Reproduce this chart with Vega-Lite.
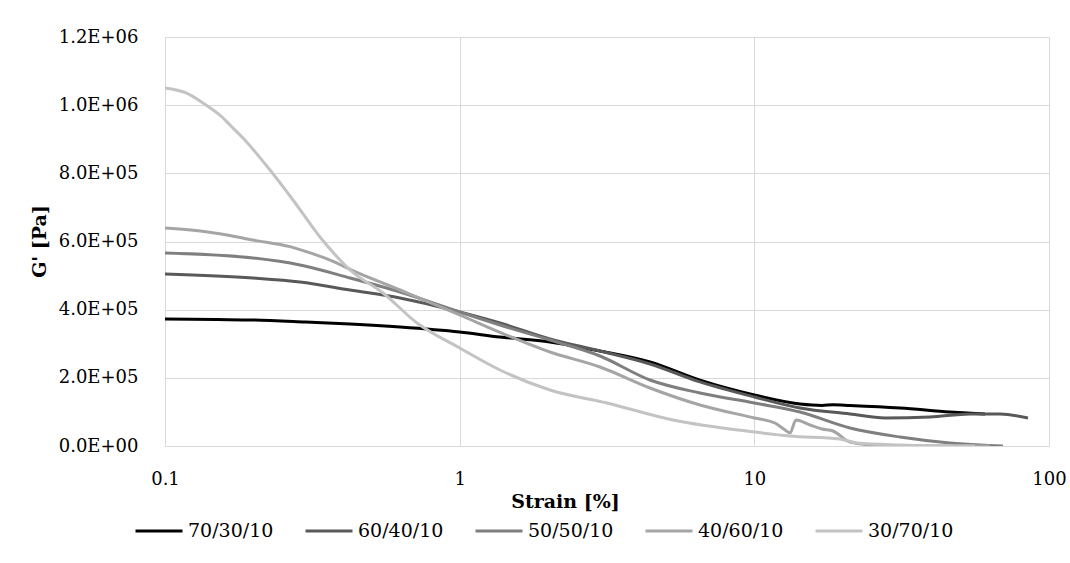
{
  "$schema": "https://vega.github.io/schema/vega-lite/v6.json",
  "width": 884,
  "height": 409,
  "autosize": {"type": "none"},
  "padding": {"left": 165, "top": 37, "right": 21, "bottom": 117},
  "background": "white",
  "config": {
    "font": "DejaVu Serif",
    "view": {"stroke": null},
    "axis": {
      "gridColor": "#d9d9d9",
      "gridWidth": 1,
      "domain": false,
      "ticks": false,
      "labelFlush": false,
      "labelFont": "DejaVu Serif",
      "labelFontSize": 18,
      "labelColor": "#000000",
      "titleFont": "DejaVu Serif",
      "titleFontSize": 19,
      "titleFontWeight": "bold",
      "titleColor": "#000000"
    },
    "legend": {
      "labelFont": "DejaVu Serif",
      "labelFontSize": 19,
      "labelColor": "#000000"
    }
  },
  "data": {
    "values": [
      {"s": "70/30/10", "x": 0.1, "y": 372600},
      {"s": "70/30/10", "x": 0.15, "y": 371000},
      {"s": "70/30/10", "x": 0.2, "y": 369700},
      {"s": "70/30/10", "x": 0.3, "y": 363800},
      {"s": "70/30/10", "x": 0.4245, "y": 357900},
      {"s": "70/30/10", "x": 0.6273, "y": 349100},
      {"s": "70/30/10", "x": 1.0, "y": 334500},
      {"s": "70/30/10", "x": 1.37, "y": 319800},
      {"s": "70/30/10", "x": 2.025, "y": 305100},
      {"s": "70/30/10", "x": 2.994, "y": 278700},
      {"s": "70/30/10", "x": 4.424, "y": 246500},
      {"s": "70/30/10", "x": 6.54, "y": 193000},
      {"s": "70/30/10", "x": 10, "y": 149600},
      {"s": "70/30/10", "x": 14.29, "y": 123200},
      {"s": "70/30/10", "x": 16.97, "y": 119000},
      {"s": "70/30/10", "x": 18.5, "y": 121000},
      {"s": "70/30/10", "x": 21.12, "y": 119000},
      {"s": "70/30/10", "x": 31.22, "y": 111500},
      {"s": "70/30/10", "x": 46.13, "y": 99800},
      {"s": "70/30/10", "x": 60.65, "y": 93900},
      {"s": "60/40/10", "x": 0.1, "y": 504600},
      {"s": "60/40/10", "x": 0.1989, "y": 492900},
      {"s": "60/40/10", "x": 0.2872, "y": 481200},
      {"s": "60/40/10", "x": 0.4245, "y": 457700},
      {"s": "60/40/10", "x": 0.6273, "y": 434200},
      {"s": "60/40/10", "x": 1.0, "y": 393200},
      {"s": "60/40/10", "x": 1.37, "y": 360900},
      {"s": "60/40/10", "x": 2.025, "y": 313900},
      {"s": "60/40/10", "x": 2.994, "y": 278700},
      {"s": "60/40/10", "x": 4.424, "y": 240600},
      {"s": "60/40/10", "x": 6.54, "y": 188000},
      {"s": "60/40/10", "x": 10, "y": 143800},
      {"s": "60/40/10", "x": 14.29, "y": 111500},
      {"s": "60/40/10", "x": 21.12, "y": 93900},
      {"s": "60/40/10", "x": 27.77, "y": 82200},
      {"s": "60/40/10", "x": 39.46, "y": 85100},
      {"s": "60/40/10", "x": 53.9, "y": 93900},
      {"s": "60/40/10", "x": 68.2, "y": 93900},
      {"s": "60/40/10", "x": 84.85, "y": 82200},
      {"s": "50/50/10", "x": 0.1, "y": 566300},
      {"s": "50/50/10", "x": 0.1989, "y": 551600},
      {"s": "50/50/10", "x": 0.2872, "y": 531000},
      {"s": "50/50/10", "x": 0.4245, "y": 492900},
      {"s": "50/50/10", "x": 0.6273, "y": 451800},
      {"s": "50/50/10", "x": 1.0, "y": 393200},
      {"s": "50/50/10", "x": 1.37, "y": 355000},
      {"s": "50/50/10", "x": 2.025, "y": 311000},
      {"s": "50/50/10", "x": 2.994, "y": 264100},
      {"s": "50/50/10", "x": 4.424, "y": 193600},
      {"s": "50/50/10", "x": 6.54, "y": 155500},
      {"s": "50/50/10", "x": 10, "y": 126200},
      {"s": "50/50/10", "x": 14.29, "y": 99800},
      {"s": "50/50/10", "x": 21.12, "y": 52800},
      {"s": "50/50/10", "x": 31.22, "y": 26400},
      {"s": "50/50/10", "x": 46.13, "y": 8800},
      {"s": "50/50/10", "x": 58.32, "y": 2900},
      {"s": "50/50/10", "x": 69.8, "y": 0},
      {"s": "40/60/10", "x": 0.1, "y": 639600},
      {"s": "40/60/10", "x": 0.1315, "y": 630900},
      {"s": "40/60/10", "x": 0.1623, "y": 619100},
      {"s": "40/60/10", "x": 0.1989, "y": 604400},
      {"s": "40/60/10", "x": 0.2657, "y": 584900},
      {"s": "40/60/10", "x": 0.2872, "y": 576200},
      {"s": "40/60/10", "x": 0.3717, "y": 541900},
      {"s": "40/60/10", "x": 0.4245, "y": 518400},
      {"s": "40/60/10", "x": 0.6273, "y": 457700},
      {"s": "40/60/10", "x": 1.0, "y": 384400},
      {"s": "40/60/10", "x": 1.37, "y": 333500},
      {"s": "40/60/10", "x": 2.025, "y": 275800},
      {"s": "40/60/10", "x": 2.994, "y": 231800},
      {"s": "40/60/10", "x": 4.424, "y": 170200},
      {"s": "40/60/10", "x": 6.54, "y": 120300},
      {"s": "40/60/10", "x": 10, "y": 82200},
      {"s": "40/60/10", "x": 11.75, "y": 67500},
      {"s": "40/60/10", "x": 12.71, "y": 46900},
      {"s": "40/60/10", "x": 13.21, "y": 38100},
      {"s": "40/60/10", "x": 13.85, "y": 76300},
      {"s": "40/60/10", "x": 15.45, "y": 61600},
      {"s": "40/60/10", "x": 16.97, "y": 49900},
      {"s": "40/60/10", "x": 18.49, "y": 44000},
      {"s": "40/60/10", "x": 21.12, "y": 11700},
      {"s": "40/60/10", "x": 25.27, "y": 2900},
      {"s": "40/60/10", "x": 31.22, "y": 1000},
      {"s": "40/60/10", "x": 63.07, "y": 0},
      {"s": "30/70/10", "x": 0.1, "y": 1050400},
      {"s": "30/70/10", "x": 0.1179, "y": 1035700},
      {"s": "30/70/10", "x": 0.1346, "y": 1006000},
      {"s": "30/70/10", "x": 0.1561, "y": 965300},
      {"s": "30/70/10", "x": 0.1662, "y": 941800},
      {"s": "30/70/10", "x": 0.1839, "y": 903700},
      {"s": "30/70/10", "x": 0.2272, "y": 809800},
      {"s": "30/70/10", "x": 0.2719, "y": 721800},
      {"s": "30/70/10", "x": 0.3357, "y": 613200},
      {"s": "30/70/10", "x": 0.3926, "y": 545700},
      {"s": "30/70/10", "x": 0.4245, "y": 516400},
      {"s": "30/70/10", "x": 0.5494, "y": 448900},
      {"s": "30/70/10", "x": 0.7166, "y": 360900},
      {"s": "30/70/10", "x": 1.0, "y": 287500},
      {"s": "30/70/10", "x": 1.37, "y": 223000},
      {"s": "30/70/10", "x": 2.025, "y": 164300},
      {"s": "30/70/10", "x": 3.162, "y": 126200},
      {"s": "30/70/10", "x": 5.297, "y": 76300},
      {"s": "30/70/10", "x": 10, "y": 41100},
      {"s": "30/70/10", "x": 13.21, "y": 29300},
      {"s": "30/70/10", "x": 19.53, "y": 20500},
      {"s": "30/70/10", "x": 22.31, "y": 8800},
      {"s": "30/70/10", "x": 31.22, "y": 2900},
      {"s": "30/70/10", "x": 46.13, "y": 0},
      {"s": "30/70/10", "x": 56.09, "y": 0}
    ]
  },
  "mark": {"type": "line", "strokeWidth": 3, "interpolate": "monotone", "clip": true},
  "encoding": {
    "x": {
      "field": "x",
      "type": "quantitative",
      "scale": {"type": "log", "domain": [0.1, 100], "nice": false},
      "axis": {
        "title": "Strain [%]",
        "values": [0.1, 1, 10, 100],
        "format": "~g",
        "labelPadding": 24,
        "titleX": 400,
        "titleY": 61,
        "titleBaseline": "alphabetic",
        "titleAlign": "center"
      }
    },
    "y": {
      "field": "y",
      "type": "quantitative",
      "scale": {"domain": [0, 1200000], "nice": false},
      "axis": {
        "title": "G' [Pa]",
        "values": [0, 200000, 400000, 600000, 800000, 1000000, 1200000],
        "labelExpr": "datum.value == 0 ? '0.0E+00' : (datum.value >= 1000000 ? format(datum.value / 1000000, '.1f') + 'E+06' : format(datum.value / 100000, '.1f') + 'E+05')",
        "labelPadding": 27,
        "titleAngle": 270,
        "titleX": -120,
        "titleY": 204,
        "titleBaseline": "alphabetic",
        "titleAlign": "center"
      }
    },
    "color": {
      "field": "s",
      "type": "nominal",
      "scale": {
        "domain": ["70/30/10", "60/40/10", "50/50/10", "40/60/10", "30/70/10"],
        "range": ["#000000", "#595959", "#7f7f7f", "#a5a5a5", "#c3c3c3"]
      },
      "legend": {
        "title": null,
        "orient": "none",
        "direction": "horizontal",
        "columns": 5,
        "legendX": -31,
        "legendY": 469,
        "symbolType": "stroke",
        "symbolSize": 2209,
        "symbolStrokeWidth": 3,
        "labelOffset": 4,
        "columnPadding": 25
      }
    },
    "order": {"field": "s", "sort": "descending"}
  }
}
